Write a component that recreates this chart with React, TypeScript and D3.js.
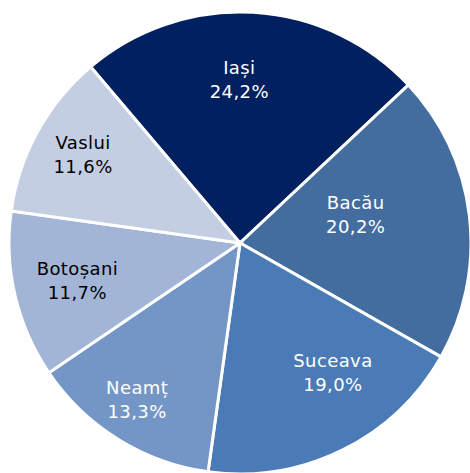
import React, { useEffect, useRef } from 'react';
import * as d3 from 'd3';

// counties and their share (%)
const counties = ['Iași', 'Bacău', 'Suceava', 'Neamț', 'Botoșani', 'Vaslui'];
const shares = [24.2, 20.2, 19.0, 13.3, 11.7, 11.6];
const labels = ['24,2%', '20,2%', '19,0%', '13,3%', '11,7%', '11,6%'];

const colors = ['#002060', '#436d9f', '#4a7bb6', '#7496c6', '#a3b5d6', '#c4cee3'];
const textColors = ['#fff', '#fff', '#fff', '#fff', '#000', '#000'];
// label placement tweaks (radius in px, angle nudge in degrees)
const labelRadius = [164, 119, 159, 187, 167, 180];
const labelNudge = [-3.5, -6.8, -9.5, 1.5, 0, 0.5];

const W = 470;
const H = 473;
const cx = 240;
const cy = 243;
const R = 231;

export default function App() {
  const ref = useRef<SVGSVGElement>(null);

  useEffect(() => {
    const svg = d3.select(ref.current);
    svg.selectAll('*').remove();

    const start = (-40.3 * Math.PI) / 180;
    const pie = d3
      .pie<number>()
      .sort(null)
      .value((d) => d)
      .startAngle(start)
      .endAngle(start + 2 * Math.PI);
    const arcs = pie(shares);

    const arc = d3.arc<d3.PieArcDatum<number>>().innerRadius(0).outerRadius(R);

    const g = svg.append('g').attr('transform', `translate(${cx},${cy})`);

    g.selectAll('path')
      .data(arcs)
      .enter()
      .append('path')
      .attr('d', arc)
      .attr('fill', (d, i) => colors[i])
      .attr('stroke', 'white')
      .attr('stroke-width', 3)
      .attr('stroke-linejoin', 'miter');

    const txt = g
      .selectAll('text')
      .data(arcs)
      .enter()
      .append('text')
      .attr('text-anchor', 'middle')
      .attr('font-family', 'DejaVu Sans, sans-serif')
      .attr('font-size', 18)
      .attr('letter-spacing', 0.4)
      .attr('fill', (d, i) => textColors[i])
      .attr('transform', (d, i) => {
        const a = (d.startAngle + d.endAngle) / 2 + (labelNudge[i] * Math.PI) / 180;
        const r = labelRadius[i];
        return `translate(${r * Math.sin(a)},${-r * Math.cos(a)})`;
      });

    txt.append('tspan').attr('x', 0).attr('y', -5.5).text((d, i) => counties[i]);
    txt.append('tspan').attr('x', 0).attr('y', 18.5).text((d, i) => labels[i]);
  }, []);

  return (
    <svg
      ref={ref}
      width={W}
      height={H}
      style={{ position: 'absolute', left: 0, top: 0, background: '#fff' }}
    />
  );
}
